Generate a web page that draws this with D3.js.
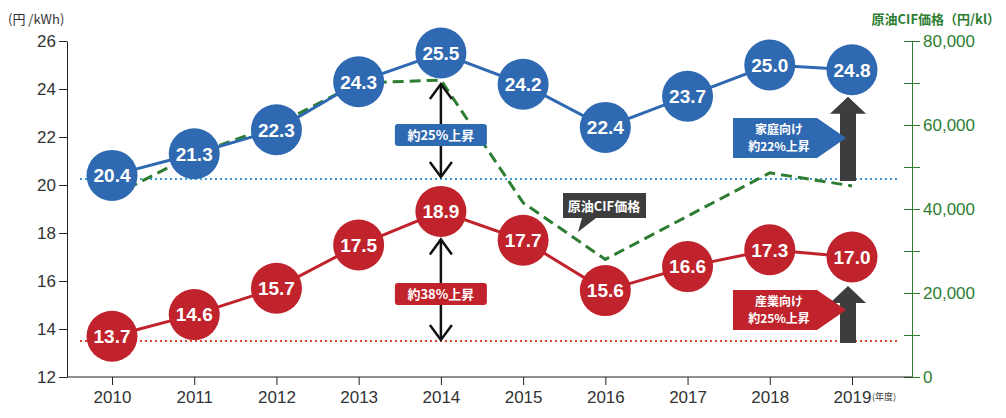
<!DOCTYPE html>
<html><head><meta charset="utf-8">
<script src="https://cdn.jsdelivr.net/npm/d3@7"></script>
<style>body{margin:0;background:#fff;font-family:"Noto Sans CJK JP","Noto Sans",sans-serif}</style>
</head><body>
<svg id="c" width="1006" height="418"></svg>
<script>
'use strict';
const years = [2010, 2011, 2012, 2013, 2014, 2015, 2016, 2017, 2018, 2019];
const household = [20.4, 21.3, 22.3, 24.3, 25.5, 24.2, 22.4, 23.7, 25.0, 24.8];
const industry = [13.7, 14.6, 15.7, 17.5, 18.9, 17.7, 15.6, 16.6, 17.3, 17.0];
const crudeCIF = [43000, 53000, 60000, 70000, 70700, 41500, 28000, 38300, 48600, 45500];
const leftTicks = [12, 14, 16, 18, 20, 22, 24, 26];
const rightTicks = [0, 20000, 40000, 60000, 80000];

const BLUE = "#2f69b1", RED = "#c0232c", GREEN = "#2e7d32", DARK = "#3d3d3d";
const svg = d3.select("#c");
const x = d3.scalePoint().domain(years).range([112, 852]);
const y = d3.scaleLinear().domain([12, 26]).range([377, 41]);
const y2 = d3.scaleLinear().domain([0, 80000]).range([377, 41]);
const txt = "#333";

// left axis
const la = svg.append("g").attr("transform", "translate(67,0)")
  .call(d3.axisLeft(y).tickValues(leftTicks).tickSize(8).tickSizeOuter(0));
la.selectAll("text").attr("font-size", 17).attr("fill", txt).attr("font-family", "Arial, Liberation Sans");
la.selectAll("line,path").attr("stroke", "#222");
svg.append("text").attr("x", 8).attr("y", 24).attr("font-size", 13).attr("fill", txt).text("(円 /kWh)");

// right axis
const ra = svg.append("g").attr("transform", "translate(912,0)")
  .call(d3.axisRight(y2).tickValues(d3.range(0, 80001, 10000)).tickSize(8).tickSizeOuter(0)
    .tickFormat(d => rightTicks.includes(d) ? d3.format(",")(d) : ""));
ra.selectAll("line").attr("x1", -8);
ra.selectAll("text").attr("font-size", 17).attr("fill", GREEN).attr("font-family", "Arial, Liberation Sans");
ra.selectAll("line,path").attr("stroke", GREEN);
svg.append("text").attr("x", 1000).attr("y", 24).attr("text-anchor", "end").attr("font-size", 13)
  .attr("font-weight", "bold").attr("fill", GREEN).text("原油CIF価格（円/kl）");

// x axis
const xa = svg.append("g").attr("transform", "translate(0,377)")
  .call(d3.axisBottom(x).tickSize(8).tickSizeOuter(0));
xa.select(".domain").attr("d", "M67,0H912");
xa.selectAll("line,path").attr("stroke", "#222");
xa.selectAll("text").attr("font-size", 17).attr("fill", txt).attr("dy", "0.9em").attr("font-family", "Arial, Liberation Sans");
svg.append("text").attr("x", 872).attr("y", 400).attr("font-size", 9).attr("fill", txt).text("(年度)");

// reference dotted lines
svg.append("line").attr("x1", 80).attr("x2", 900).attr("y1", y(20.25)).attr("y2", y(20.25))
  .attr("stroke", "#3a9ad9").attr("stroke-width", 2).attr("stroke-dasharray", "2,3");
svg.append("line").attr("x1", 80).attr("x2", 900).attr("y1", y(13.5)).attr("y2", y(13.5))
  .attr("stroke", "#e0402e").attr("stroke-width", 2).attr("stroke-dasharray", "2,3");

// crude oil
svg.append("path").datum(crudeCIF)
  .attr("d", d3.line().x((d, i) => x(years[i])).y(d => y2(d)))
  .attr("fill", "none").attr("stroke", GREEN).attr("stroke-width", 3).attr("stroke-dasharray", "11,6");

// 2014 double arrows
function dbl(y1, y2v) {
  const cx = x(2014);
  svg.append("line").attr("x1", cx).attr("x2", cx).attr("y1", y1).attr("y2", y2v).attr("stroke", "#111").attr("stroke-width", 2.5);
  [[y1, 1], [y2v, -1]].forEach(([yy, s]) => svg.append("path")
    .attr("d", `M${cx - 11},${yy + 15 * s}L${cx},${yy}L${cx + 11},${yy + 15 * s}`)
    .attr("fill", "none").attr("stroke", "#111").attr("stroke-width", 2.5));
}
dbl(y2(70700) + 4, y(20.25) - 2);
dbl(y(18.9) + 28, y(13.5) - 1);
function tag(cx, cy, w, label, fill) {
  svg.append("rect").attr("x", cx - w / 2).attr("y", cy - 11).attr("width", w).attr("height", 22).attr("rx", 3).attr("fill", fill);
  svg.append("text").attr("x", cx).attr("y", cy + 5).attr("text-anchor", "middle").attr("font-size", 13)
    .attr("font-weight", "bold").attr("fill", "#fff").text(label);
}
tag(x(2014), 135, 92, "約25%上昇", BLUE);
tag(x(2014), 294, 92, "約38%上昇", RED);

// callout 原油CIF価格
svg.append("path").attr("d", "M563,193H646V218H596L578,232L582,218H563Z").attr("fill", DARK);
svg.append("text").attr("x", 604).attr("y", 211).attr("text-anchor", "middle").attr("font-size", 13)
  .attr("font-weight", "bold").attr("fill", "#fff").text("原油CIF価格");

// big arrows 2019
function bigArrow(top, bottom) {
  const cx = 848;
  svg.append("path").attr("d", `M${cx - 8},${bottom}V${top + 17}H${cx - 18}L${cx},${top}L${cx + 18},${top + 17}H${cx + 8}V${bottom}Z`).attr("fill", DARK);
}
bigArrow(y(24.8) + 27, y(20.25) + 2);
bigArrow(y(17.0) + 29, y(13.5) + 2);
function penta(yTop, lines, fill) {
  svg.append("path").attr("d", `M733,${yTop}H817L846,${yTop + 20}L817,${yTop + 40}H733Z`).attr("fill", fill);
  lines.forEach((l, i) => svg.append("text").attr("x", 779).attr("y", yTop + 16 + i * 17).attr("text-anchor", "middle")
    .attr("font-size", 12).attr("font-weight", "bold").attr("fill", "#fff").text(l));
}
penta(118, ["家庭向け", "約22%上昇"], BLUE);
penta(290, ["産業向け", "約25%上昇"], RED);

// series
function series(vals, color) {
  svg.append("path").datum(vals).attr("d", d3.line().x((d, i) => x(years[i])).y(d => y(d)))
    .attr("fill", "none").attr("stroke", color).attr("stroke-width", 3);
  const g = svg.append("g").selectAll("g").data(vals).join("g")
    .attr("transform", (d, i) => `translate(${x(years[i])},${y(d)})`);
  g.append("circle").attr("r", 25.5).attr("fill", color);
  g.append("text").attr("text-anchor", "middle").attr("dy", "0.36em").attr("font-size", 19)
    .attr("font-weight", "bold").attr("fill", "#fff").attr("font-family", "Arial, Liberation Sans")
    .text(d => d.toFixed(1));
}
series(household, BLUE);
series(industry, RED);
</script>
</body></html>
